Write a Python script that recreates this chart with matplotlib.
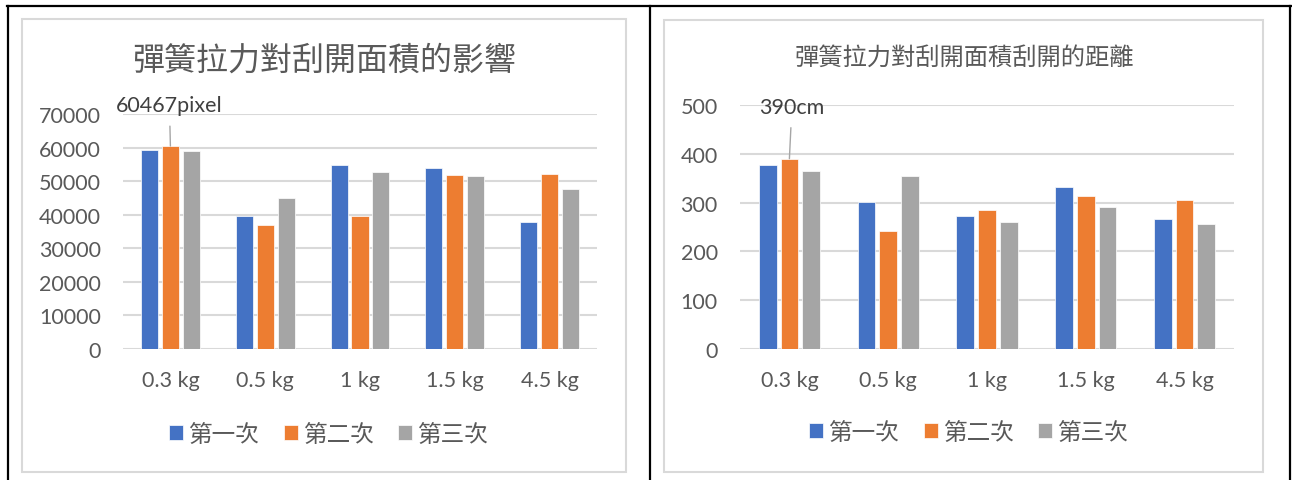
import numpy as np
import matplotlib.pyplot as plt
from matplotlib.lines import Line2D
from matplotlib.patches import Rectangle

plt.rcParams['font.family'] = ['Lato', 'Noto Sans CJK TC', 'DejaVu Sans']

# data
weights = ['0.3 kg', '0.5 kg', '1 kg', '1.5 kg', '4.5 kg']
series = ['第一次', '第二次', '第三次']
area_1 = [59200, 39700, 54700, 54000, 37800]
area_2 = [60467, 37000, 39500, 51800, 52100]
area_3 = [59000, 44900, 52700, 51500, 47600]
dist_1 = [378, 302, 272, 331, 266]
dist_2 = [390, 242, 284, 313, 305]
dist_3 = [364, 354, 260, 290, 256]

colors = ['#4472C4', '#ED7D31', '#A5A5A5']
W, H = 1292, 481
fig = plt.figure(figsize=(W / 100, H / 100), dpi=100)

def fx(px):
    return px / W

def fy(py):
    return 1 - py / H

# table borders and chart frames
for x0, y0, x1, y1 in [(7, 7, 1291, 7), (8, 7, 8, 481), (650, 7, 650, 481), (1290, 7, 1290, 481)]:
    fig.add_artist(Line2D([fx(x0), fx(x1)], [fy(y0), fy(y1)], color='black', lw=1.6))
for x0, y0, x1, y1 in [(22, 20, 626, 473), (664, 21, 1263, 473)]:
    fig.add_artist(Rectangle((fx(x0), fy(y1)), fx(x1 - x0), (y1 - y0) / H,
                             fill=False, edgecolor='#d9d9d9', lw=1.5))


def draw(rect, data, ymax, step, title, tx, ty, tsize, note, note_val, note_off, shrink, leg_xy):
    ax = fig.add_axes(rect)
    x = np.arange(len(weights))
    bars = []
    for k, vals in enumerate(data):
        b = ax.bar(x + (k - 1) * 0.22, vals, width=0.18, color=colors[k],
                   edgecolor='white', linewidth=0.5, label=series[k], zorder=3)
        bars.append(b)
    ax.set_xlim(-0.5, len(weights) - 0.5)
    ax.set_ylim(0, ymax)
    ax.set_yticks(np.arange(0, ymax + 1, step))
    ax.set_xticks(x)
    ax.set_xticklabels(weights)
    ax.tick_params(length=0, labelsize=15.5, labelcolor='#595959')
    ax.tick_params(axis='y', pad=16)
    ax.tick_params(axis='x', pad=15)
    ax.grid(axis='y', color='#d9d9d9', lw=1.5, zorder=0)
    for s in ax.spines.values():
        s.set_visible(False)
    ax.set_facecolor('none')
    ax.annotate(note, xy=(0, note_val), xytext=note_off, textcoords='offset points',
                ha='center', va='center', fontsize=15.5, color='#404040',
                arrowprops=dict(arrowstyle='-', color='#a6a6a6', lw=1,
                                shrinkA=shrink, shrinkB=0))
    fig.text(fx(tx), fy(ty), title, ha='center', va='center', fontsize=tsize,
             color='#595959', family=['Noto Sans CJK TC'])
    ax.legend(loc='center', bbox_to_anchor=(fx(leg_xy[0]), fy(leg_xy[1])),
              bbox_transform=fig.transFigure, ncol=3, frameon=False,
              prop={'family': ['Noto Sans CJK TC'], 'size': 17},
              labelcolor='#595959', handlelength=0.6, handleheight=0.6,
              handletextpad=0.25, columnspacing=1.0, borderaxespad=0)
    return ax


draw([fx(123), fy(350), fx(597 - 123), 235 / H],
     [area_1, area_2, area_3], 70000, 10000,
     '彈簧拉力對刮開面積的影響', 324, 61, 23,
     '60467pixel', area_2[0], (-0.7, 29.5), 6, (329, 435))

draw([fx(740), fy(350), fx(1234 - 740), 244 / H],
     [dist_1, dist_2, dist_3], 500, 100,
     '彈簧拉力對刮開面積刮開的距離', 964, 58, 17.5,
     '390cm', dist_2[0], (1.8, 37.5), 6, (969, 433))

fig.savefig('out.png', dpi=100, facecolor='white')
